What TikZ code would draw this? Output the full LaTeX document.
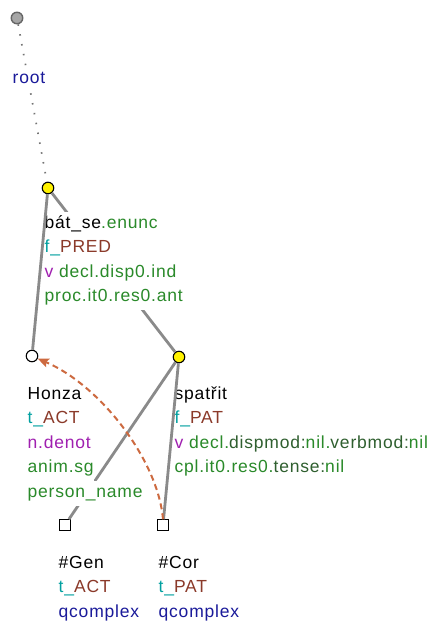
\documentclass[tikz,border=0pt]{standalone}
\usepackage{fontspec}
\setmainfont{Liberation Sans}[LetterSpace=4.5]
\usetikzlibrary{arrows.meta}
\definecolor{tgreen}{HTML}{2A8A2A}
\definecolor{tdkgreen}{HTML}{2F5F2F}
\definecolor{tteal}{HTML}{00A0A0}
\definecolor{tbrown}{HTML}{8B3A2A}
\definecolor{tpurple}{HTML}{A020B0}
\definecolor{tblue}{HTML}{1A1A9A}
\definecolor{edgegray}{HTML}{8A8A8A}
\definecolor{corefarrow}{HTML}{CD6A40}
\begin{document}
\begin{tikzpicture}[x=1pt,y=-1pt,
  font=\fontsize{17.5}{21}\selectfont,
  rowlbl/.style={anchor=base west, fill=white, inner xsep=0.5pt, inner ysep=0pt, text height=16pt, text depth=8.5pt},
  treeedge/.style={draw=edgegray, line width=2.8pt},
  ynode/.style={circle, draw=black, fill=yellow, line width=1.1pt, minimum size=11.5pt, inner sep=0pt},
  wnode/.style={circle, draw=black, fill=white, line width=1.1pt, minimum size=11.5pt, inner sep=0pt},
  rnode/.style={circle, draw=black!60, fill=black!35, line width=1.4pt, minimum size=11.5pt, inner sep=0pt},
  snode/.style={rectangle, draw=black, fill=white, line width=1.1pt, minimum size=10.5pt, inner sep=0pt},
  corarrow/.style={draw=corefarrow, line width=2pt, dash pattern=on 6pt off 4pt, -{Stealth[length=11pt,width=9pt,inset=2pt]}}
]
\useasboundingbox (0,0) rectangle (434,624);
\fill[white] (0,0) rectangle (434,624);

% tree nodes
\node[rnode] (root) at (17,18) {};
\node[ynode] (bat) at (48,188) {};
\node[wnode] (honza) at (32,356) {};
\node[ynode] (spat) at (179,357) {};
\node[snode] (gen) at (65,525) {};
\node[snode] (cor) at (163,525) {};

% edges under labels
\draw[draw=black!55, line width=1.7pt, dash pattern=on 1.5pt off 8.5pt] (root) -- (bat);
\draw[treeedge] (bat) -- (spat);
\draw[treeedge] (spat) -- (gen);

% labels
\node[rowlbl, text=tblue] (rootl) at (12,83) {root};

\node[rowlbl] (bat1) at (44,228) {bát\_se\textcolor{tgreen}{.enunc}};
\node[rowlbl] (bat2) at (44,252.5) {\textcolor{tteal}{f\_}\textcolor{tbrown}{PRED}};
\node[rowlbl] (bat3) at (44,277) {\textcolor{tpurple}{v} \textcolor{tgreen}{decl.disp0.ind}};
\node[rowlbl, text=tgreen] (bat4) at (44,301.5) {proc.it0.res0.ant};

\node[rowlbl] (hon1) at (27,399) {Honza};
\node[rowlbl] (hon2) at (27,423.5) {\textcolor{tteal}{t\_}\textcolor{tbrown}{ACT}};
\node[rowlbl, text=tpurple] (hon3) at (27,448) {n.denot};
\node[rowlbl, text=tgreen] (hon4) at (27,472.5) {anim.sg};
\node[rowlbl, text=tgreen] (hon5) at (27,497) {person\_name};

\node[rowlbl] (spa1) at (174,399) {spatřit};
\node[rowlbl] (spa2) at (174,423.5) {\textcolor{tteal}{f\_}\textcolor{tbrown}{PAT}};
\node[rowlbl] (spa3) at (174,448) {\textcolor{tpurple}{v} \textcolor{tgreen}{decl.}\textcolor{tdkgreen}{dispmod:}\textcolor{tgreen}{nil.}\textcolor{tdkgreen}{verbmod:}\textcolor{tgreen}{nil}};
\node[rowlbl] (spa4) at (174,472.5) {\textcolor{tgreen}{cpl.it0.res0.}\textcolor{tdkgreen}{tense:}\textcolor{tgreen}{nil}};

\node[rowlbl] (gen1) at (58,568) {\#Gen};
\node[rowlbl] (gen2) at (58,592.5) {\textcolor{tteal}{t\_}\textcolor{tbrown}{ACT}};
\node[rowlbl, text=tblue] (gen3) at (58,617) {qcomplex};

\node[rowlbl] (cor1) at (158,568) {\#Cor};
\node[rowlbl] (cor2) at (158,592.5) {\textcolor{tteal}{t\_}\textcolor{tbrown}{PAT}};
\node[rowlbl, text=tblue] (cor3) at (158,617) {qcomplex};

% edges over labels
\draw[treeedge] (bat) -- (honza);
\draw[treeedge] (spat) -- (cor);

% coreference arrow
\draw[corarrow] (cor.north) .. controls (158,460) and (100,385) .. (honza.-25);
\end{tikzpicture}
\end{document}
